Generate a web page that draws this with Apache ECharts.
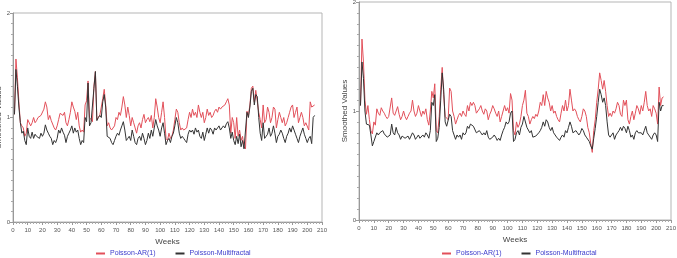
<!DOCTYPE html>
<html>
<head>
<meta charset="utf-8">
<script src="https://cdn.jsdelivr.net/npm/echarts@6/dist/echarts.min.js"></script>
<style>
  html, body { margin: 0; padding: 0; background: #fff; }
  #main { width: 677px; height: 258px; }
</style>
</head>
<body>
<div id="main"></div>
<script>
// weekly smoothed values, weeks 1..205
var weeks = [];
for (var i = 1; i <= 205; i++) weeks.push(i);

var xTicks = [0, 210, 10];
var yTicks = [0, 2, 1];

var leftAR = [
    1.03,1.56,1.38,1.15,0.95,0.92,0.90,0.82,0.85,0.98,
    0.99,0.92,0.95,1.00,0.95,0.97,1.00,1.00,1.02,1.03,
    1.08,1.15,1.10,0.98,1.02,0.97,0.98,0.90,0.88,0.92,
    0.98,1.04,1.05,1.02,1.05,0.95,0.92,0.98,1.05,1.15,
    1.10,1.06,0.98,1.05,0.92,0.86,0.88,0.86,1.12,1.16,
    1.35,1.00,0.98,0.96,1.30,1.44,0.98,1.00,1.02,1.02,
    1.18,1.27,1.12,0.92,0.95,0.90,0.88,0.88,0.92,1.00,
    0.98,1.05,1.02,1.10,1.20,1.12,1.00,1.10,1.02,0.92,
    1.00,0.95,0.90,0.85,0.92,0.95,0.90,0.98,1.03,0.95,
    0.98,1.00,0.96,1.02,0.90,1.00,1.18,1.10,1.00,0.95,
    1.05,1.15,1.00,0.80,0.78,0.85,0.80,0.82,0.88,0.98,
    1.08,1.05,0.95,0.88,0.90,0.88,0.88,0.90,0.98,1.05,
    1.00,1.08,1.02,1.05,1.00,1.12,1.05,1.00,1.05,0.95,
    1.00,1.08,1.02,1.05,1.00,1.02,1.06,1.08,1.05,1.10,
    1.08,1.10,1.10,1.12,1.15,1.18,1.12,0.85,1.00,0.95,
    0.80,1.00,0.82,0.88,0.78,0.82,0.72,0.70,1.06,1.02,
    1.12,1.28,1.30,1.15,1.26,1.25,1.05,0.98,0.90,1.12,
    0.95,0.98,1.10,1.05,0.95,1.00,1.10,1.08,0.90,0.98,
    1.05,1.00,0.95,1.00,0.92,0.95,1.00,1.05,1.10,1.12,
    1.00,1.05,1.10,0.95,1.00,1.05,1.00,0.92,0.95,0.95,
    0.88,1.15,1.10,1.10,1.12
];
var leftMF = [
    1.03,1.46,1.30,1.10,0.95,0.85,0.87,0.78,0.74,0.90,
    0.82,0.80,0.86,0.80,0.84,0.82,0.83,0.80,0.85,0.82,
    0.85,0.93,0.88,0.85,0.82,0.80,0.74,0.78,0.76,0.80,
    0.88,0.85,0.90,0.86,0.83,0.76,0.82,0.85,0.88,0.92,
    0.85,0.90,0.86,0.88,0.80,0.74,0.78,0.76,1.00,0.96,
    1.33,0.92,0.95,0.95,1.28,1.44,0.97,1.00,1.02,1.00,
    1.15,1.22,1.10,0.82,0.83,0.80,0.76,0.74,0.78,0.82,
    0.85,0.83,0.88,0.92,0.96,0.88,0.78,0.80,0.82,0.78,
    0.88,0.82,0.76,0.74,0.80,0.82,0.78,0.85,0.80,0.74,
    0.78,0.85,0.80,0.88,0.82,0.90,0.98,0.92,0.88,0.82,
    0.90,0.95,0.85,0.74,0.78,0.80,0.76,0.82,0.85,0.92,
    1.00,0.95,0.85,0.80,0.82,0.80,0.78,0.76,0.84,0.88,
    0.86,0.88,0.84,0.90,0.86,0.88,0.82,0.80,0.86,0.78,
    0.84,0.90,0.85,0.90,0.88,0.84,0.90,0.88,0.90,0.92,
    0.88,0.90,0.92,0.90,0.94,0.96,0.90,0.80,0.86,0.78,
    0.74,0.82,0.75,0.84,0.72,0.78,0.70,0.70,1.05,1.00,
    1.10,1.25,1.28,1.12,1.22,1.20,1.00,0.85,0.78,0.95,
    0.80,0.82,0.84,0.90,0.82,0.85,0.92,0.85,0.76,0.82,
    0.84,0.88,0.85,0.80,0.76,0.82,0.85,0.90,0.86,0.92,
    0.88,0.84,0.80,0.76,0.82,0.86,0.90,0.84,0.80,0.76,
    0.80,0.82,0.75,1.00,1.02
];
var rightAR = [
    1.05,1.66,1.45,1.10,0.97,1.05,0.92,0.82,0.79,0.90,
    0.87,1.02,0.98,0.96,1.03,1.00,0.98,0.95,0.93,0.95,
    0.94,1.12,0.98,0.96,1.00,1.04,0.97,0.92,0.95,1.00,
    0.95,0.92,0.95,0.98,1.00,1.10,1.00,0.95,0.98,1.05,
    1.00,0.95,1.00,0.97,1.02,0.92,0.87,1.00,1.18,1.12,
    1.25,0.82,0.80,0.95,1.20,1.40,1.15,0.95,0.95,0.92,
    1.21,1.18,1.00,0.95,0.88,0.92,0.96,0.98,0.95,1.00,
    0.97,0.95,1.05,1.00,1.08,1.05,1.08,1.05,0.98,1.00,
    1.02,1.05,1.00,0.97,1.02,1.00,0.92,0.97,1.00,1.05,
    1.02,0.98,0.95,1.00,0.90,0.95,1.00,1.05,1.00,1.03,
    0.98,1.16,1.10,0.82,0.78,0.90,0.85,0.88,0.95,1.05,
    1.10,1.19,0.98,0.95,0.88,0.92,0.95,0.93,0.97,0.95,
    1.00,1.08,1.05,1.15,1.05,1.18,1.12,1.08,1.00,1.05,
    0.98,1.00,0.95,0.92,0.90,0.98,1.05,1.00,1.10,1.00,
    1.05,1.20,1.10,1.00,1.02,1.00,0.95,0.92,0.90,0.95,
    1.02,1.00,0.95,0.85,0.80,0.70,0.62,0.82,0.92,1.08,
    1.20,1.35,1.28,1.20,1.28,1.18,1.05,0.95,0.98,0.95,
    1.00,0.98,1.02,1.08,1.05,0.97,0.95,1.10,1.05,1.10,
    0.92,0.88,0.95,1.00,0.92,0.98,1.05,1.02,0.97,1.05,
    1.00,1.08,1.18,1.05,1.00,1.02,0.95,1.05,1.02,0.98,
    0.88,1.22,1.05,1.12,1.13
];
var rightMF = [
    1.05,1.45,1.30,1.00,0.88,0.87,0.87,0.78,0.68,0.72,
    0.72,0.80,0.78,0.80,0.80,0.82,0.79,0.78,0.76,0.76,
    0.78,0.88,0.80,0.78,0.85,0.80,0.78,0.74,0.77,0.78,
    0.75,0.74,0.77,0.74,0.75,0.80,0.78,0.74,0.76,0.78,
    0.75,0.74,0.78,0.76,0.80,0.78,0.75,0.82,1.08,1.05,
    1.15,0.72,0.75,0.85,1.10,1.35,1.20,0.90,0.86,0.87,
    0.97,0.95,0.82,0.78,0.74,0.78,0.76,0.78,0.74,0.80,
    0.78,0.80,0.86,0.84,0.88,0.88,0.86,0.85,0.80,0.80,
    0.82,0.80,0.78,0.80,0.78,0.82,0.76,0.74,0.75,0.76,
    0.78,0.76,0.73,0.75,0.73,0.78,0.82,0.85,0.90,0.88,
    0.90,0.98,1.00,0.72,0.74,0.80,0.82,0.78,0.85,0.88,
    0.95,0.95,0.85,0.85,0.80,0.82,0.76,0.75,0.77,0.78,
    0.80,0.82,0.85,0.90,0.86,0.92,0.90,0.85,0.82,0.85,
    0.80,0.78,0.76,0.75,0.73,0.76,0.78,0.76,0.82,0.80,
    0.85,0.90,0.86,0.80,0.80,0.82,0.80,0.78,0.80,0.84,
    0.82,0.78,0.76,0.75,0.72,0.68,0.65,0.75,0.84,0.95,
    1.08,1.20,1.15,1.08,1.12,1.05,0.90,0.78,0.76,0.76,
    0.80,0.74,0.78,0.80,0.82,0.85,0.82,0.86,0.84,0.80,
    0.86,0.82,0.76,0.78,0.74,0.80,0.82,0.80,0.79,0.80,
    0.78,0.82,0.86,0.80,0.78,0.76,0.74,0.78,0.80,0.78,
    0.72,1.08,1.00,1.05,1.05
];

var AR_NAME = 'Poisson-AR(1)';
var MF_NAME = 'Poisson-Multifractal';
var AR_COLOR = '#e2505a';
var MF_COLOR = '#333333';
var FONT = 'Liberation Sans';

var chartDom = document.getElementById('main');
var myChart = echarts.init(chartDom);

function pairs(values) {
    return values.map(function (v, i) { return [weeks[i], v]; });
}

function xAxisFor(gridIndex, nameGap) {
    return {
        gridIndex: gridIndex,
        type: 'value',
        min: xTicks[0], max: xTicks[1], interval: xTicks[2],
        name: 'Weeks', nameLocation: 'middle', nameGap: nameGap,
        nameTextStyle: { fontFamily: FONT, fontSize: 8, color: '#444' },
        axisLine: { lineStyle: { color: '#999', width: 1 } },
        axisTick: { show: true, length: 3, lineStyle: { color: '#999' } },
        minorTick: { show: true, splitNumber: 5, length: 2, lineStyle: { color: '#aaa' } },
        splitLine: { show: false },
        axisLabel: { fontFamily: FONT, fontSize: 6, color: '#555', margin: 5, showMaxLabel: true }
    };
}

function yAxisFor(gridIndex, nameGap) {
    return {
        gridIndex: gridIndex,
        type: 'value',
        min: yTicks[0], max: yTicks[1], interval: yTicks[2],
        name: 'Smoothed Values', nameLocation: 'middle', nameRotate: 90, nameGap: nameGap,
        nameTextStyle: { fontFamily: FONT, fontSize: 8, color: '#444' },
        axisLine: { show: true, lineStyle: { color: '#999', width: 1 } },
        axisTick: { show: true, length: 3, lineStyle: { color: '#999' } },
        minorTick: { show: true, splitNumber: 10, length: 2, lineStyle: { color: '#aaa' } },
        splitLine: { show: false },
        axisLabel: { fontFamily: FONT, fontSize: 6, color: '#555', margin: 3 }
    };
}

function lineSeries(name, values, color, idx) {
    return {
        name: name,
        type: 'line',
        xAxisIndex: idx, yAxisIndex: idx,
        data: pairs(values),
        symbol: 'none',
        lineStyle: { color: color, width: 1 },
        itemStyle: { color: color }
    };
}

function legendAt(left) {
    return {
        left: left, top: 245,
        data: [
            { name: AR_NAME, itemStyle: { color: AR_COLOR } },
            { name: MF_NAME, itemStyle: { color: MF_COLOR } }
        ],
        icon: 'rect',
        itemWidth: 9, itemHeight: 2, itemGap: 20,
        textStyle: { fontFamily: FONT, fontSize: 7, color: '#3b3bcc' }
    };
}

var option = {
    animation: false,
    grid: [
        { left: 13, top: 13, width: 309, height: 209, show: true, borderColor: '#b5b5b5', borderWidth: 1, outerBoundsMode: 'none' },
        { left: 359, top: 2, width: 312, height: 218, show: true, borderColor: '#b5b5b5', borderWidth: 1, outerBoundsMode: 'none' }
    ],
    xAxis: [xAxisFor(0, 13), xAxisFor(1, 14)],
    yAxis: [yAxisFor(0, 3), yAxisFor(1, 8)],
    legend: [legendAt(91), legendAt(437)],
    series: [
        lineSeries(AR_NAME, leftAR, AR_COLOR, 0),
        lineSeries(MF_NAME, leftMF, MF_COLOR, 0),
        lineSeries(AR_NAME, rightAR, AR_COLOR, 1),
        lineSeries(MF_NAME, rightMF, MF_COLOR, 1)
    ]
};

myChart.setOption(option);
</script>
</body>
</html>
